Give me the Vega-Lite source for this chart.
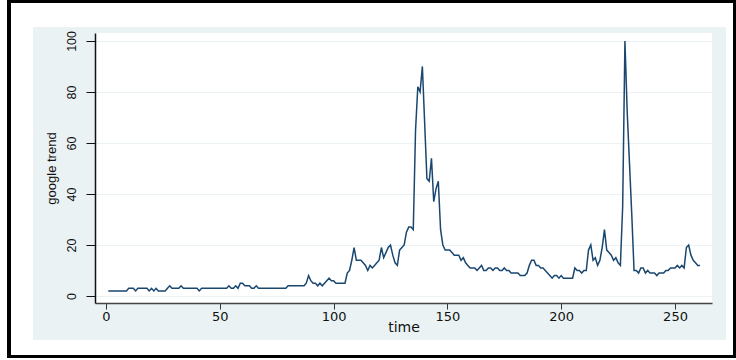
{
  "$schema": "https://vega.github.io/schema/vega-lite/v6.json",
  "width": 617,
  "height": 270,
  "autosize": "none",
  "padding": {"left": 95, "top": 33, "right": 24, "bottom": 57},
  "background": "#eaf2f3",
  "view": {"stroke": null, "fill": "white"},
  "config": {
    "axisX": {
      "grid": false, "zindex": 1,
      "domainColor": "#444", "domainWidth": 1.3, "tickColor": "#333", "tickSize": 6, "tickWidth": 1,
      "labelFont": "DejaVu Sans", "labelFontSize": 13, "labelColor": "#111", "labelPadding": 1,
      "titleFont": "DejaVu Sans", "titleFontSize": 14, "titleFontWeight": "normal", "titleColor": "#111", "titlePadding": -3
    },
    "axisY": {
      "grid": true, "gridColor": "#eaf2f3", "gridWidth": 1, "zindex": 1,
      "domainColor": "#111", "domainWidth": 1.5, "tickColor": "#111", "tickSize": 9, "tickWidth": 1,
      "labelAngle": -90, "labelAlign": "center", "labelBaseline": "bottom",
      "labelFont": "Liberation Sans", "labelFontSize": 12.5, "labelColor": "#111", "labelPadding": 8,
      "titleFont": "Liberation Sans", "titleFontSize": 13, "titleFontWeight": "normal", "titleColor": "#111", "titlePadding": 7
    }
  },
  "datasets": {
    "trend": [
      {"t":1,"v":2},{"t":2,"v":2},{"t":3,"v":2},{"t":4,"v":2},{"t":5,"v":2},{"t":6,"v":2},{"t":7,"v":2},{"t":8,"v":2},{"t":9,"v":2},{"t":10,"v":3},
      {"t":11,"v":3},{"t":12,"v":3},{"t":13,"v":2},{"t":14,"v":3},{"t":15,"v":3},{"t":16,"v":3},{"t":17,"v":3},{"t":18,"v":3},{"t":19,"v":2},{"t":20,"v":3},
      {"t":21,"v":2},{"t":22,"v":3},{"t":23,"v":2},{"t":24,"v":2},{"t":25,"v":2},{"t":26,"v":2},{"t":27,"v":3},{"t":28,"v":4},{"t":29,"v":3},{"t":30,"v":3},
      {"t":31,"v":3},{"t":32,"v":3},{"t":33,"v":4},{"t":34,"v":3},{"t":35,"v":3},{"t":36,"v":3},{"t":37,"v":3},{"t":38,"v":3},{"t":39,"v":3},{"t":40,"v":3},
      {"t":41,"v":2},{"t":42,"v":3},{"t":43,"v":3},{"t":44,"v":3},{"t":45,"v":3},{"t":46,"v":3},{"t":47,"v":3},{"t":48,"v":3},{"t":49,"v":3},{"t":50,"v":3},
      {"t":51,"v":3},{"t":52,"v":3},{"t":53,"v":3},{"t":54,"v":4},{"t":55,"v":3},{"t":56,"v":3},{"t":57,"v":4},{"t":58,"v":3},{"t":59,"v":5},{"t":60,"v":5},
      {"t":61,"v":4},{"t":62,"v":4},{"t":63,"v":4},{"t":64,"v":3},{"t":65,"v":3},{"t":66,"v":4},{"t":67,"v":3},{"t":68,"v":3},{"t":69,"v":3},{"t":70,"v":3},
      {"t":71,"v":3},{"t":72,"v":3},{"t":73,"v":3},{"t":74,"v":3},{"t":75,"v":3},{"t":76,"v":3},{"t":77,"v":3},{"t":78,"v":3},{"t":79,"v":3},{"t":80,"v":4},
      {"t":81,"v":4},{"t":82,"v":4},{"t":83,"v":4},{"t":84,"v":4},{"t":85,"v":4},{"t":86,"v":4},{"t":87,"v":4},{"t":88,"v":5},{"t":89,"v":8},{"t":90,"v":6},
      {"t":91,"v":5},{"t":92,"v":5},{"t":93,"v":4},{"t":94,"v":5},{"t":95,"v":4},{"t":96,"v":5},{"t":97,"v":6},{"t":98,"v":7},{"t":99,"v":6},{"t":100,"v":6},
      {"t":101,"v":5},{"t":102,"v":5},{"t":103,"v":5},{"t":104,"v":5},{"t":105,"v":5},{"t":106,"v":9},{"t":107,"v":10},{"t":108,"v":14},{"t":109,"v":19},{"t":110,"v":14},
      {"t":111,"v":14},{"t":112,"v":14},{"t":113,"v":13},{"t":114,"v":12},{"t":115,"v":10},{"t":116,"v":12},{"t":117,"v":11},{"t":118,"v":12},{"t":119,"v":13},{"t":120,"v":14},
      {"t":121,"v":19},{"t":122,"v":15},{"t":123,"v":17},{"t":124,"v":19},{"t":125,"v":20},{"t":126,"v":16},{"t":127,"v":13},{"t":128,"v":12},{"t":129,"v":18},{"t":130,"v":19},
      {"t":131,"v":20},{"t":132,"v":25},{"t":133,"v":27},{"t":134,"v":27},{"t":135,"v":26},{"t":136,"v":65},{"t":137,"v":82},{"t":138,"v":80},{"t":139,"v":90},{"t":140,"v":68},
      {"t":141,"v":46},{"t":142,"v":45},{"t":143,"v":54},{"t":144,"v":37},{"t":145,"v":42},{"t":146,"v":45},{"t":147,"v":26},{"t":148,"v":20},{"t":149,"v":18},{"t":150,"v":18},
      {"t":151,"v":18},{"t":152,"v":17},{"t":153,"v":16},{"t":154,"v":16},{"t":155,"v":16},{"t":156,"v":14},{"t":157,"v":15},{"t":158,"v":13},{"t":159,"v":12},{"t":160,"v":11},
      {"t":161,"v":11},{"t":162,"v":11},{"t":163,"v":10},{"t":164,"v":11},{"t":165,"v":12},{"t":166,"v":10},{"t":167,"v":10},{"t":168,"v":11},{"t":169,"v":11},{"t":170,"v":10},
      {"t":171,"v":11},{"t":172,"v":11},{"t":173,"v":10},{"t":174,"v":10},{"t":175,"v":11},{"t":176,"v":10},{"t":177,"v":10},{"t":178,"v":9},{"t":179,"v":9},{"t":180,"v":9},
      {"t":181,"v":9},{"t":182,"v":8},{"t":183,"v":8},{"t":184,"v":8},{"t":185,"v":9},{"t":186,"v":12},{"t":187,"v":14},{"t":188,"v":14},{"t":189,"v":12},{"t":190,"v":12},
      {"t":191,"v":11},{"t":192,"v":11},{"t":193,"v":10},{"t":194,"v":9},{"t":195,"v":8},{"t":196,"v":7},{"t":197,"v":8},{"t":198,"v":8},{"t":199,"v":7},{"t":200,"v":8},
      {"t":201,"v":7},{"t":202,"v":7},{"t":203,"v":7},{"t":204,"v":7},{"t":205,"v":7},{"t":206,"v":11},{"t":207,"v":10},{"t":208,"v":10},{"t":209,"v":9},{"t":210,"v":10},
      {"t":211,"v":10},{"t":212,"v":18},{"t":213,"v":20},{"t":214,"v":14},{"t":215,"v":15},{"t":216,"v":12},{"t":217,"v":14},{"t":218,"v":19},{"t":219,"v":26},{"t":220,"v":18},
      {"t":221,"v":17},{"t":222,"v":16},{"t":223,"v":14},{"t":224,"v":15},{"t":225,"v":13},{"t":226,"v":12},{"t":227,"v":35},{"t":228,"v":100},{"t":229,"v":72},{"t":230,"v":52},
      {"t":231,"v":32},{"t":232,"v":10},{"t":233,"v":10},{"t":234,"v":9},{"t":235,"v":11},{"t":236,"v":11},{"t":237,"v":9},{"t":238,"v":10},{"t":239,"v":9},{"t":240,"v":9},
      {"t":241,"v":9},{"t":242,"v":8},{"t":243,"v":9},{"t":244,"v":9},{"t":245,"v":9},{"t":246,"v":10},{"t":247,"v":10},{"t":248,"v":11},{"t":249,"v":11},{"t":250,"v":11},
      {"t":251,"v":12},{"t":252,"v":11},{"t":253,"v":12},{"t":254,"v":11},{"t":255,"v":19},{"t":256,"v":20},{"t":257,"v":16},{"t":258,"v":14},{"t":259,"v":13},{"t":260,"v":12},
      {"t":261,"v":12}
    ]
  },
  "data": {"name": "trend"},
  "layer": [
    {
      "mark": {"type": "rect", "fill": "white", "clip": false},
      "encoding": {
        "x": {"datum": -46.6, "type": "quantitative", "title": "time", "scale": {"domain": [-4.83, 266.25], "nice": false, "zero": false}, "axis": {"values": [0, 50, 100, 150, 200, 250]}},
        "x2": {"datum": 276.9},
        "y": {"datum": 116.1, "type": "quantitative", "title": "google trend", "scale": {"domain": [-2.75, 103.1], "nice": false, "zero": false}, "axis": {"values": [0, 20, 40, 60, 80, 100]}},
        "y2": {"datum": 105.45}
      }
    },
    {
      "mark": {"type": "rect", "fill": "white", "clip": false},
      "encoding": {
        "x": {"datum": -46.6, "type": "quantitative", "title": "time", "axis": {"values": [0, 50, 100, 150, 200, 250]}},
        "x2": {"datum": 276.9},
        "y": {"datum": -17.25, "type": "quantitative", "title": "google trend", "axis": {"values": [0, 20, 40, 60, 80, 100]}},
        "y2": {"datum": -25.1}
      }
    },
    {
      "mark": {"type": "rect", "fill": "white", "clip": false},
      "encoding": {
        "x": {"datum": -46.6, "type": "quantitative", "title": "time", "axis": {"values": [0, 50, 100, 150, 200, 250]}},
        "x2": {"datum": -32.07},
        "y": {"datum": 116.1, "type": "quantitative", "title": "google trend", "axis": {"values": [0, 20, 40, 60, 80, 100]}},
        "y2": {"datum": -25.1}
      }
    },
    {
      "mark": {"type": "rect", "fill": "white", "clip": false},
      "encoding": {
        "x": {"datum": 272.4, "type": "quantitative", "title": "time", "axis": {"values": [0, 50, 100, 150, 200, 250]}},
        "x2": {"datum": 276.9},
        "y": {"datum": 116.1, "type": "quantitative", "title": "google trend", "axis": {"values": [0, 20, 40, 60, 80, 100]}},
        "y2": {"datum": -25.1}
      }
    },
    {
      "mark": {"type": "rect", "fill": null, "fillOpacity": 0, "stroke": "black", "strokeWidth": 2.5, "clip": false},
      "encoding": {
        "x": {"datum": -42.6, "type": "quantitative", "title": "time", "axis": {"values": [0, 50, 100, 150, 200, 250]}},
        "x2": {"datum": 276.1},
        "y": {"datum": 115.6, "type": "quantitative", "title": "google trend", "axis": {"values": [0, 20, 40, 60, 80, 100]}},
        "y2": {"datum": -23.6}
      }
    },
    {
      "mark": {"type": "line", "color": "#1a476f", "strokeWidth": 1.5, "clip": true},
      "encoding": {
        "x": {"field": "t", "type": "quantitative", "title": "time", "axis": {"values": [0, 50, 100, 150, 200, 250]}},
        "y": {"field": "v", "type": "quantitative", "title": "google trend", "axis": {"values": [0, 20, 40, 60, 80, 100]}}
      }
    }
  ]
}
